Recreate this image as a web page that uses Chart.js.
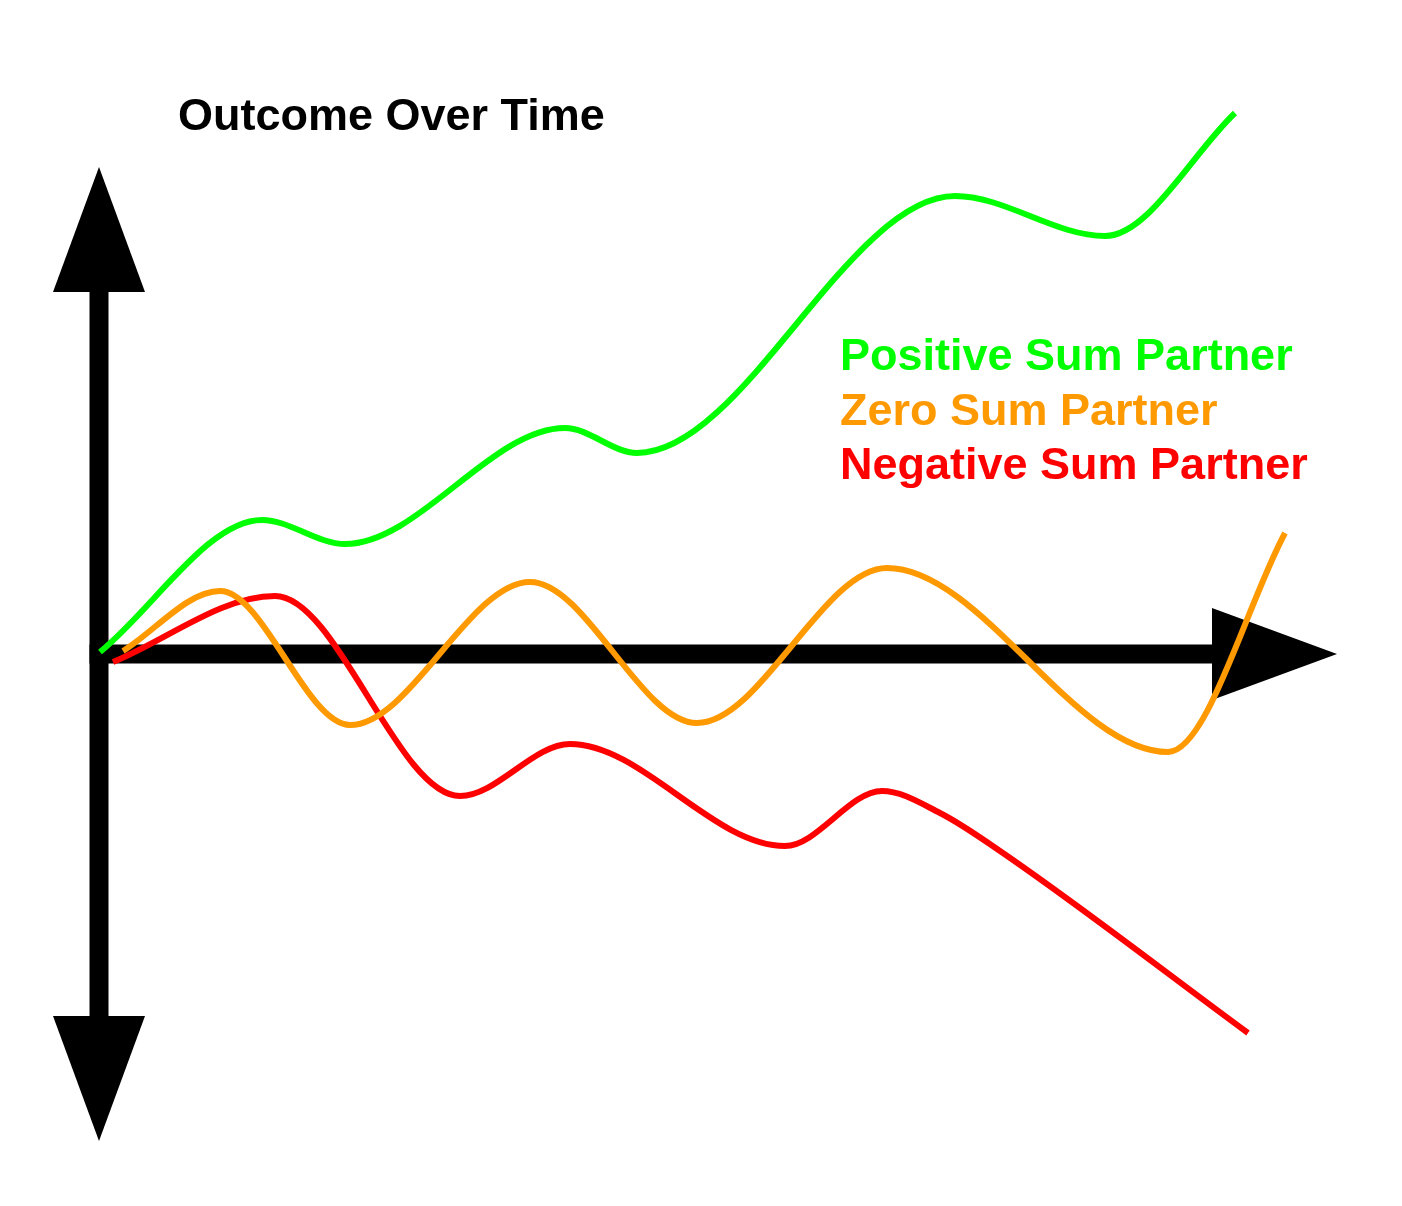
<!DOCTYPE html>
<html>
<head>
<meta charset="utf-8">
<title>Outcome Over Time</title>
<script src="https://cdn.jsdelivr.net/npm/chart.js@4"></script>
<style>
  body { margin: 0; background: #fff; }
  #wrap { width: 1402px; height: 1206px; position: relative; }
</style>
</head>
<body>
<div id="wrap"><canvas id="chart"></canvas></div>
<script>
// Series values (time, outcome)
const positiveTime = [0.01, 1.63, 2.46, 4.66, 5.38, 8.56, 10.06, 11.36];
const positiveSum  = [0.02, 1.34, 1.10, 2.26, 2.01, 4.58, 4.18, 5.41];

const zeroTime = [0.24, 1.21, 2.51, 4.31, 5.98, 7.88, 10.69, 11.86];
const zeroSum  = [0.03, 0.63, -0.71, 0.72, -0.69, 0.86, -0.98, 1.21];

const negativeTime = [0.14, 1.76, 3.61, 4.71, 6.86, 7.83, 8.41, 9.01, 11.49];
const negativeSum  = [-0.08, 0.58, -1.42, -0.90, -1.92, -1.37, -1.59, -1.97, -3.79];

const seriesLabels = ['Positive Sum Partner', 'Zero Sum Partner', 'Negative Sum Partner'];
const seriesColors = ['#00ff00', '#ff9900', '#ff0000'];
const chartTitle = 'Outcome Over Time';

// how far the drawn axes reach (arrow tips)
const timeReach = 12.38;
const outcomeReach = 4.87;

const toPoints = (xs, ys) => xs.map((x, i) => ({ x: x, y: ys[i] }));

const axesArrows = {
  id: 'axesArrows',
  beforeDatasetsDraw(chart) {
    const ctx = chart.ctx;
    const xs = chart.scales.x, ys = chart.scales.y;
    const ox = xs.getPixelForValue(0), oy = ys.getPixelForValue(0);
    const top = ys.getPixelForValue(outcomeReach);
    const bottom = ys.getPixelForValue(-outcomeReach);
    const right = xs.getPixelForValue(timeReach);
    const head = 125, half = 46, shaft = 19;
    ctx.save();
    ctx.fillStyle = '#000';
    // vertical shaft
    ctx.fillRect(ox - shaft / 2, top + head, shaft, bottom - top - 2 * head);
    // horizontal shaft
    ctx.fillRect(ox - shaft / 2, oy - shaft / 2, right - head - ox + shaft / 2, shaft);
    // up arrow
    ctx.beginPath();
    ctx.moveTo(ox, top); ctx.lineTo(ox + half, top + head); ctx.lineTo(ox - half, top + head);
    ctx.closePath(); ctx.fill();
    // down arrow
    ctx.beginPath();
    ctx.moveTo(ox, bottom); ctx.lineTo(ox + half, bottom - head); ctx.lineTo(ox - half, bottom - head);
    ctx.closePath(); ctx.fill();
    // right arrow
    ctx.beginPath();
    ctx.moveTo(right, oy); ctx.lineTo(right - head, oy - half); ctx.lineTo(right - head, oy + half);
    ctx.closePath(); ctx.fill();
    ctx.restore();
  },
  afterDraw(chart) {
    const ctx = chart.ctx;
    ctx.save();
    ctx.font = 'bold 45px "Liberation Sans", Arial, sans-serif';
    ctx.textBaseline = 'alphabetic';
    ctx.fillStyle = '#000';
    ctx.fillText(chartTitle, 178, 130);
    seriesLabels.forEach((lbl, i) => {
      ctx.fillStyle = seriesColors[i];
      ctx.fillText(lbl, 840, 370 + i * 54.5);
    });
    ctx.restore();
  }
};

const ctx = document.getElementById('chart').getContext('2d');
new Chart(ctx, {
  type: 'line',
  data: {
    datasets: [
      { label: seriesLabels[0], data: toPoints(positiveTime, positiveSum), borderColor: seriesColors[0] },
      { label: seriesLabels[1], data: toPoints(zeroTime, zeroSum), borderColor: seriesColors[1] },
      { label: seriesLabels[2], data: toPoints(negativeTime, negativeSum), borderColor: seriesColors[2] }
    ]
  },
  options: {
    responsive: true,
    maintainAspectRatio: false,
    animation: false,
    layout: { padding: 0 },
    elements: {
      line: { borderWidth: 6, cubicInterpolationMode: 'monotone', borderCapStyle: 'butt', fill: false },
      point: { radius: 0, hoverRadius: 0 }
    },
    scales: {
      x: { type: 'linear', min: -0.99, max: 13.03, display: false },
      y: { type: 'linear', min: -5.52, max: 6.54, display: false }
    },
    plugins: {
      legend: { display: false },
      title: { display: false },
      tooltip: { enabled: false }
    }
  },
  plugins: [axesArrows]
});
</script>
</body>
</html>
